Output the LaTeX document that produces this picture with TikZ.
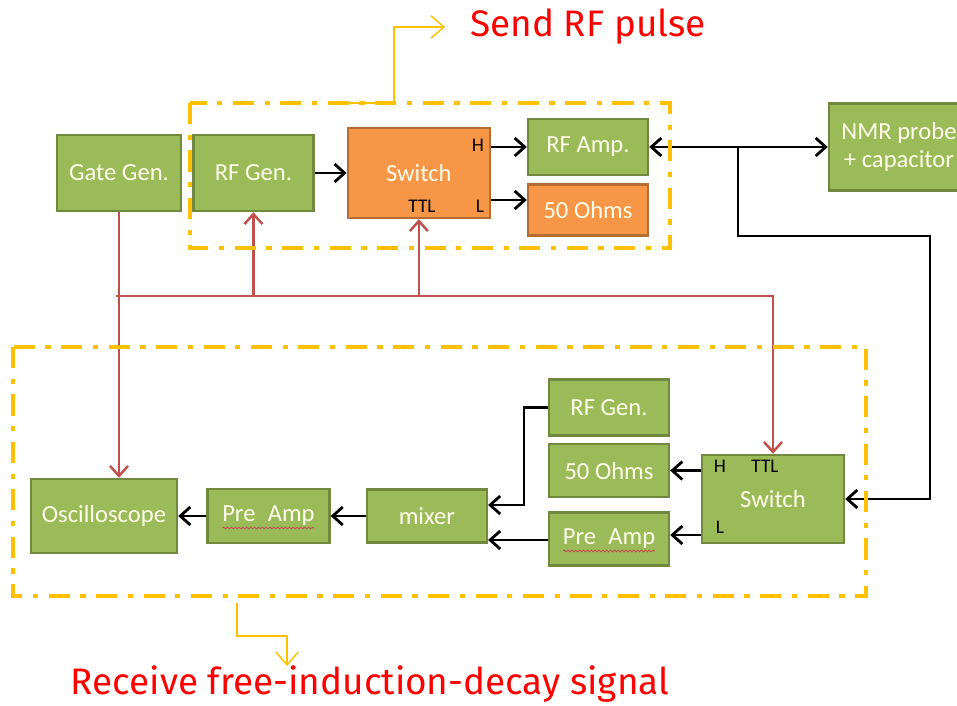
\documentclass[tikz,border=0pt]{standalone}
\usepackage{fontspec}
\setmainfont{Carlito}
\newfontfamily\notefont{Fira Sans}
\usepackage{tikz}
\usetikzlibrary{positioning, arrows.meta, decorations.pathmorphing}
\definecolor{greenfill}{HTML}{9BBB59}
\definecolor{greenline}{HTML}{71893F}
\definecolor{orangefill}{HTML}{F79646}
\definecolor{orangeline}{HTML}{B66D31}
\definecolor{ctrlred}{HTML}{C0504D}
\definecolor{frameyellow}{HTML}{FFC000}
\definecolor{notered}{HTML}{FF0000}

\begin{document}
\begin{tikzpicture}[x=0.02cm, y=-0.02cm]
	\tikzstyle{block} = [draw=greenline, fill=greenfill, line width=1.4pt, inner sep=0pt, text=white!92!yellow, font={\fontsize{14}{16}\selectfont}];
	\tikzstyle{hot} = [block, draw=orangeline, fill=orangefill];
	\tikzstyle{tag} = [inner sep=0pt, font={\fontsize{11}{13}\selectfont}];
	\tikzstyle{signal} = [->, line width=1.6pt, >={Straight Barb[length=2mm, width=3.6mm]}];
	\tikzstyle{ctrl} = [signal, color=ctrlred, line width=1.4pt];
	\tikzstyle{boxframe} = [frameyellow, line width=2.4pt, dash pattern=on 12pt off 6pt on 3pt off 6pt];
	\tikzstyle{pointer} = [->, frameyellow, line width=0.8pt, >={Straight Barb[length=2.6mm, width=4.5mm]}];
	\tikzstyle{title} = [text=notered, font={\notefont\fontsize{21}{24}\selectfont}];

	\useasboundingbox (0,0) rectangle (957,706);

	% transmit side
	\node[block, minimum width=2.48cm, minimum height=1.52cm] (gate) at (119,173) {Gate Gen.};
	\node[block, minimum width=2.4cm, minimum height=1.52cm, right=0.2cm of gate] (rfgen1) {RF Gen.};
	\node[hot, minimum width=2.84cm, minimum height=1.8cm, right=0.64cm of rfgen1] (switch1) {Switch};
	\node[block, minimum width=2.4cm, minimum height=1.12cm] (rfamp) at (588,147) {RF Amp.};
	\node[hot, minimum width=2.4cm, minimum height=1.02cm, below=0.14cm of rfamp] (ohm1) {50 Ohms};
	\node[block, minimum width=2.8cm, minimum height=1.74cm, align=center] (probe) at (899,147) {NMR probe\\+ capacitor};

	\node[tag] (h1) at (478,145) {H};
	\node[tag] (ttl1) at (422,206) {TTL};
	\node[tag] (l1) at (480,206) {L};

	% receive side
	\node[block, minimum width=2.92cm, minimum height=1.48cm] (osc) at (104,516) {Oscilloscope};
	\node[block, minimum width=2.44cm, minimum height=1.08cm, right=0.56cm of osc] (pre1) {Pre\enspace Amp};
	\node[block, minimum width=2.4cm, minimum height=1.06cm, right=0.7cm of pre1] (mixer) {mixer};
	\node[block, minimum width=2.4cm, minimum height=1.06cm] (pre2) at (609,539) {Pre\enspace Amp};
	\node[block, minimum width=2.4cm, minimum height=1.06cm, above=0.26cm of pre2] (ohm2) {50 Ohms};
	\node[block, minimum width=2.4cm, minimum height=1.12cm, above=0.12cm of ohm2] (rfgen2) {RF Gen.};
	\node[block, minimum width=2.84cm, minimum height=1.76cm] (switch2) at (773,499) {Switch};

	\node[tag] (h2) at (720,466) {H};
	\node[tag] (ttl2) at (765,466) {TTL};
	\node[tag] (l2) at (720,527) {L};

	\foreach \p in {pre1, pre2} {
		\draw[ctrlred, line width=0.5pt, decorate, decoration={snake, amplitude=0.5pt, segment length=2.2pt}]
			([xshift=-0.92cm, yshift=-0.24cm]\p.center) -- ([xshift=0.92cm, yshift=-0.24cm]\p.center);
	}

	% rf path
	\draw[signal] (rfgen1.east) -- (rfgen1.east -| switch1.west);
	\draw[signal] (rfamp.west -| switch1.east) -- (rfamp.west);
	\draw[signal] (switch1.east |- 0,200) -- (ohm1.west |- 0,200);
	\draw[signal, <->] (rfamp.east) -- (probe.west);
	\coordinate (tap) at (738,147);
	\coordinate (bend) at (930,236);
	\draw[signal] (tap) |- (bend) |- (switch2.east);

	\draw[signal] (ohm2.east -| switch2.west) -- (ohm2.east);
	\draw[signal] (switch2.west |- 0,535) -- (pre2.east |- 0,535);
	\draw[signal] (pre2.west |- 0,540) -- (mixer.east |- 0,540);
	\coordinate (mixin) at (524,505);
	\draw[signal] (rfgen2.west) -| (mixin) -- (mixin -| mixer.east);
	\draw[signal] (mixer.west) -- (mixer.west -| pre1.east);
	\draw[signal] (pre1.west) -- (pre1.west -| osc.east);

	% gate lines
	\coordinate (bus) at (116,296);
	\draw[ctrl] (gate.south) -- (gate.south |- osc.north);
	\draw[ctrl] (bus) -| (switch2.north);
	\foreach \n in {rfgen1, switch1}
		\draw[ctrl] (\n.south |- bus) -- (\n.south);

	% groups
	\draw[boxframe] (190,103) rectangle (670,248);
	\draw[boxframe] (13,347) rectangle (866,596);

	\node[title] (send) at (588,27) {Send RF pulse};
	\node[title] (receive) at (370,684) {Receive free-induction-decay signal};
	\coordinate (sendtip) at (445,27);
	\coordinate (recvtip) at (287,666);
	\draw[pointer] (343,103) -| (394,27) -- (sendtip);
	\draw[pointer] (237,603) |- (287,636) -- (recvtip);
\end{tikzpicture}
\end{document}
